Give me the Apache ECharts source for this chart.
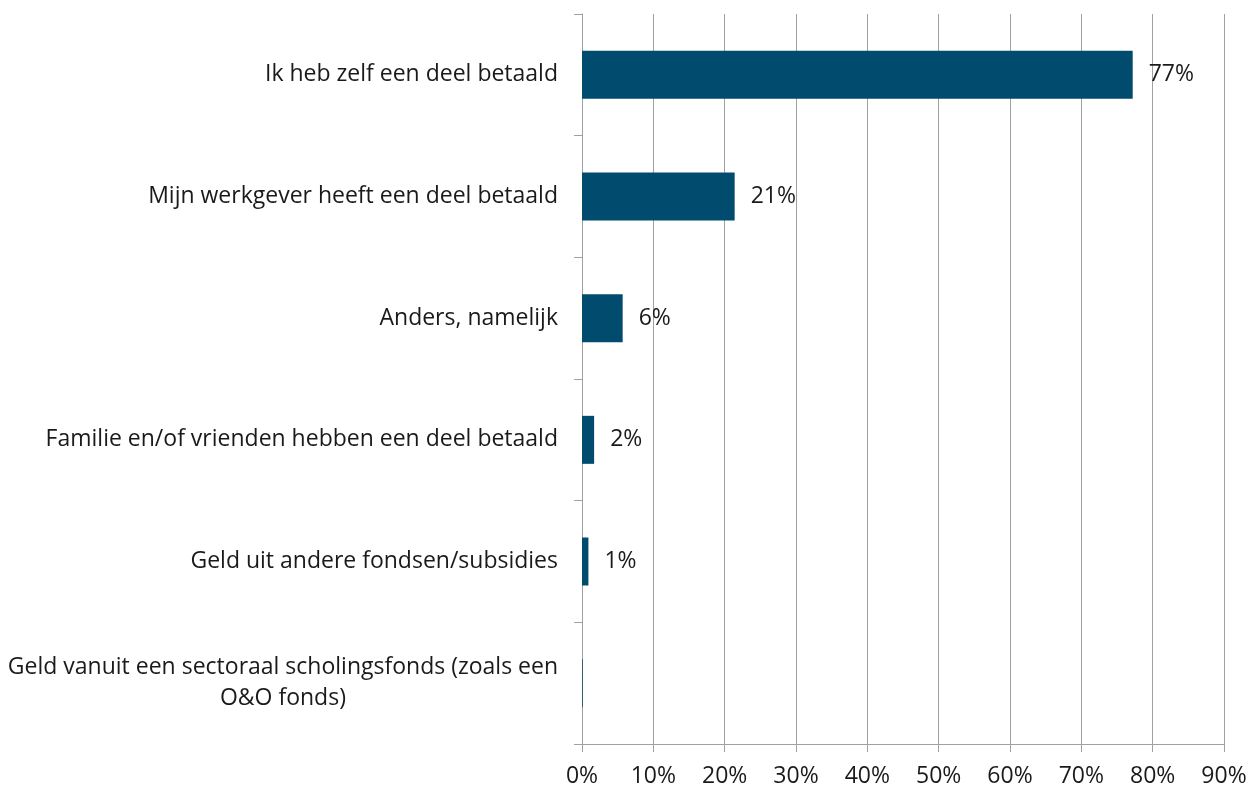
<!DOCTYPE html>
<html>
<head>
<meta charset="utf-8">
<script src="https://cdn.jsdelivr.net/npm/echarts@6/dist/echarts.min.js"></script>
<style>
  html, body { margin: 0; padding: 0; background: #fff; }
  #chart { width: 1258px; height: 789px; }
</style>
</head>
<body>
<div id="chart"></div>
<script>
// categorieën (van boven naar beneden)
const categories = [
  'Ik heb zelf een deel betaald',
  'Mijn werkgever heeft een deel betaald',
  'Anders, namelijk',
  'Familie en/of vrienden hebben een deel betaald',
  'Geld uit andere fondsen/subsidies',
  'Geld vanuit een sectoraal scholingsfonds (zoals een\nO&O fonds)'
]
const values = [77.2, 21.4, 5.7, 1.7, 0.9, 0.1]
// labels achter de balken (laatste zonder label)
const valueLabels = ['77%', '21%', '6%', '2%', '1%', '']
const xTicks = [0, 10, 20, 30, 40, 50, 60, 70, 80, 90]

const font = 'Open Sans'
const fs = 23
const chart = echarts.init(document.getElementById('chart'))

const option = {
  animation: false,
  grid: { left: 582, right: 34, top: 14, bottom: 45 },
  xAxis: {
    type: 'value',
    min: xTicks[0],
    max: xTicks[xTicks.length - 1],
    interval: 10,
    axisLine: { show: true, lineStyle: { color: '#a0a0a0', width: 1 } },
    axisTick: { show: true, length: 8, lineStyle: { color: '#a0a0a0' } },
    splitLine: { show: true, lineStyle: { color: '#a0a0a0', width: 1 } },
    axisLabel: {
      margin: 21,
      color: '#1a1a1a',
      fontFamily: font,
      fontSize: fs,
      formatter: v => v + '%'
    }
  },
  yAxis: {
    type: 'category',
    inverse: true,
    data: categories,
    axisLine: { show: true, lineStyle: { color: '#a0a0a0', width: 1 } },
    axisTick: { show: true, length: 8, lineStyle: { color: '#a0a0a0' } },
    splitLine: { show: false },
    axisLabel: {
      margin: 24,
      color: '#1a1a1a',
      fontFamily: font,
      fontSize: fs,
      lineHeight: 31,
      formatter: v => v.indexOf('\n') >= 0 ? '{c|' + v + '}' : v,
      rich: {
        c: { align: 'center', fontFamily: font, fontSize: fs, color: '#1a1a1a', lineHeight: 31 }
      }
    }
  },
  series: [{
    type: 'bar',
    barWidth: 48,
    data: values,
    itemStyle: { color: '#004b6e' },
    label: {
      show: true,
      position: 'right',
      distance: 16,
      color: '#1a1a1a',
      fontFamily: font,
      fontSize: fs,
      formatter: p => valueLabels[p.dataIndex]
    }
  }]
}
chart.setOption(option)
</script>
</body>
</html>
